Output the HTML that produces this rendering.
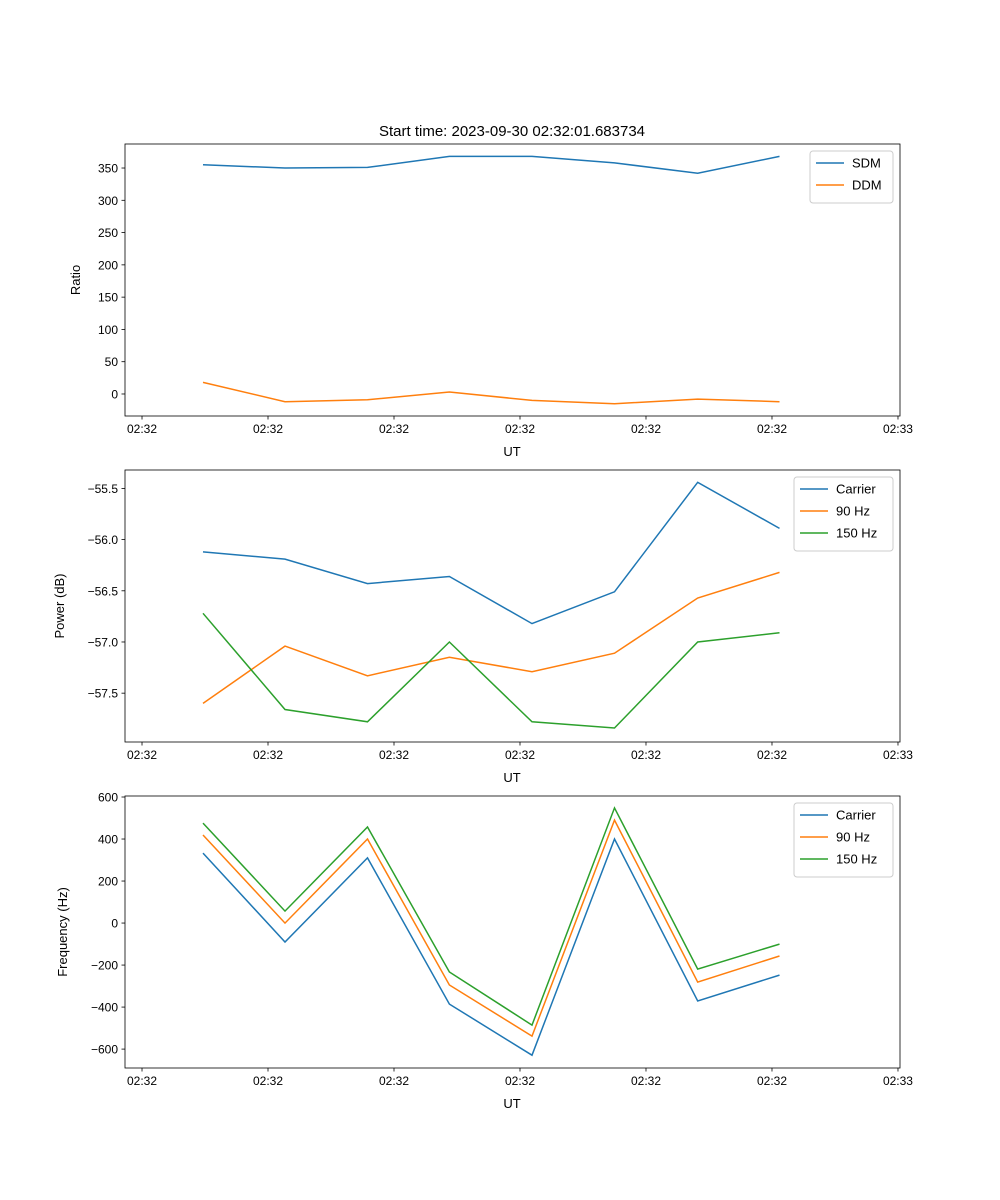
<!DOCTYPE html>
<html><head><meta charset="utf-8"><style>
body{margin:0;background:#fff}
svg{display:block;font-family:"Liberation Sans","DejaVu Sans",sans-serif}
</style></head><body>
<svg id="fig" width="1000" height="1200" xmlns="http://www.w3.org/2000/svg">
<text x="512" y="136" font-size="15" text-anchor="middle">Start time: 2023-09-30 02:32:01.683734</text>
</svg>
<script>
const times = [4.84, 11.35, 17.9, 24.4, 30.95, 37.5, 44.1, 50.6];
const xTickVals = [0, 10, 20, 30, 40, 50, 60];
const xTickLabels = ["02:32","02:32","02:32","02:32","02:32","02:32","02:33"];
const sdm = [355, 350, 351, 368, 368, 358, 342, 368];
const ddm = [18, -12, -9, 3, -10, -15, -8, -12];
const powCarrier = [-56.12, -56.19, -56.43, -56.36, -56.82, -56.51, -55.44, -55.89];
const pow90 = [-57.60, -57.04, -57.33, -57.15, -57.29, -57.11, -56.57, -56.32];
const pow150 = [-56.72, -57.66, -57.78, -57.00, -57.78, -57.84, -57.00, -56.91];
const frqCarrier = [333, -90, 310, -386, -629, 400, -371, -248];
const frq90 = [419, 0, 400, -295, -538, 490, -281, -157];
const frq150 = [476, 57, 457, -233, -486, 548, -219, -100];
const ratioTicks = [0,50,100,150,200,250,300,350];
const powTicks = [-55.5,-56.0,-56.5,-57.0,-57.5];
const frqTicks = [600,400,200,0,-200,-400,-600];

const NS="http://www.w3.org/2000/svg";
const svg=document.getElementById('fig');
function el(tag,attrs,parent){const e=document.createElementNS(NS,tag);for(const k in attrs)e.setAttribute(k,attrs[k]);(parent||svg).appendChild(e);return e;}
const L=125,R=900,xmin=-1.35,xmax=60.16;
function xs(t){return L+(t-xmin)/(xmax-xmin)*(R-L);}

function panel(name,top,bot,ymin,ymax,yTicks,fmt,ylabel,series,legendW){
  const g=el('g',{});
  
  
  const ys=v=>bot-(v-ymin)/(ymax-ymin)*(bot-top);
  series.forEach(s=>{
    const pts=s.vals.map((v,i)=>xs(times[i]).toFixed(1)+','+ys(v).toFixed(1)).join(' ');
    const p=el('polyline',{points:pts,fill:'none',stroke:s.color,'stroke-width':1.5},g);
    
    
  });
  const fr=el('rect',{x:L,y:top,width:R-L,height:bot-top,fill:'none',stroke:'#000','stroke-width':0.8},g);
  
  
  xTickVals.forEach((t,i)=>{
    const x=xs(t);
    el('line',{x1:x,x2:x,y1:bot,y2:bot+3.5,stroke:'#000','stroke-width':0.8},g);
    const tx=el('text',{x:x,y:bot+17,'font-size':12,'text-anchor':'middle'},g);
    tx.textContent=xTickLabels[i];
    
    
  });
  const xl=el('text',{x:512,y:bot+40,'font-size':13,'text-anchor':'middle'},g);
  xl.textContent='UT';
  
  
  yTicks.forEach(v=>{
    const y=ys(v);
    el('line',{x1:L-3.5,x2:L,y1:y,y2:y,stroke:'#000','stroke-width':0.8},g);
    const tx=el('text',{x:L-7,y:y+4.5,'font-size':12,'text-anchor':'end'},g);
    tx.textContent=fmt(v);
    
    
  });
  const yl=el('text',{x:0,y:0,'font-size':13,'text-anchor':'middle',transform:`translate(${ylabel.x},${(top+bot)/2}) rotate(-90)`},g);
  yl.textContent=ylabel.t;
  
  
  const lx=R-7-legendW, ly=top+7, lh=8+series.length*22;
  const lg=el('g',{},g);
  
  
  el('rect',{x:lx,y:ly,width:legendW,height:lh,rx:3,fill:'#fff',stroke:'#ccc'},lg);
  series.forEach((s,i)=>{
    const y=ly+12+i*22;
    el('line',{x1:lx+6,x2:lx+34,y1:y,y2:y,stroke:s.color,'stroke-width':1.5},lg);
    const t=el('text',{x:lx+42,y:y+4.5,'font-size':13},lg);
    t.textContent=s.label;
    
    
  });
}
const m='\u2212';
panel('ratio-panel',144,416,-34.1,387.2,ratioTicks,v=>(v<0?m:'')+Math.abs(v),{x:80,t:'Ratio'},
  [{name:'sdm-line',label:'SDM',vals:sdm,color:'#1f77b4'},{name:'ddm-line',label:'DDM',vals:ddm,color:'#ff7f0e'}],83);
panel('power-panel',470,742,-57.977,-55.32,powTicks,v=>m+Math.abs(v).toFixed(1),{x:64,t:'Power (dB)'},
  [{name:'carrier-power-line',label:'Carrier',vals:powCarrier,color:'#1f77b4'},{name:'90hz-power-line',label:'90 Hz',vals:pow90,color:'#ff7f0e'},{name:'150hz-power-line',label:'150 Hz',vals:pow150,color:'#2ca02c'}],99);
panel('frequency-panel',796,1068,-690,604.8,frqTicks,v=>(v<0?m:'')+Math.abs(v),{x:67,t:'Frequency (Hz)'},
  [{name:'carrier-freq-line',label:'Carrier',vals:frqCarrier,color:'#1f77b4'},{name:'90hz-freq-line',label:'90 Hz',vals:frq90,color:'#ff7f0e'},{name:'150hz-freq-line',label:'150 Hz',vals:frq150,color:'#2ca02c'}],99);
</script>
</body></html>
